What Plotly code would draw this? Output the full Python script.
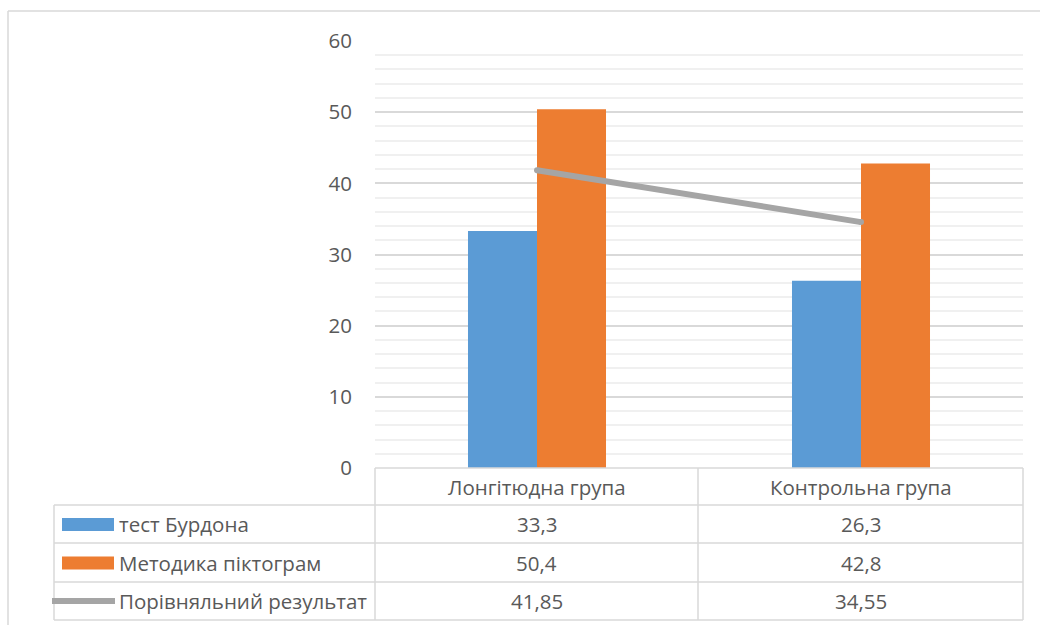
import plotly.graph_objects as go

# Data
categories = ["Лонгітюдна група", "Контрольна група"]
series_names = ["тест Бурдона", "Методика піктограм", "Порівняльний результат"]
bourdon = [33.3, 26.3]
pictogram = [50.4, 42.8]
comparative = [41.85, 34.55]
value_labels = [["33,3", "26,3"], ["50,4", "42,8"], ["41,85", "34,55"]]
y_ticks = [0, 10, 20, 30, 40, 50, 60]

BLUE = "#5b9bd5"
ORANGE = "#ed7d31"
GRAY = "#a5a5a5"
TEXT = "#595959"
GRID = "#d9d9d9"
FONT = "Open Sans"
FS = 20.5

W, H = 1040, 625
L, R, T, B = 375, 1023, 41, 468  # plot area in pixels


def px(x):
    return (x - L) / (R - L)


def py(y):
    return (B - y) / (B - T)


fig = go.Figure()
fig.add_trace(go.Bar(x=categories, y=bourdon, name=series_names[0],
                     marker=dict(color=BLUE, line=dict(width=0))))
fig.add_trace(go.Bar(x=categories, y=pictogram, name=series_names[1],
                     marker=dict(color=ORANGE, line=dict(width=0))))
fig.add_trace(go.Scatter(x=categories, y=comparative, name=series_names[2],
                         mode="lines+markers",
                         line=dict(color=GRAY, width=6),
                         marker=dict(color=GRAY, size=6, line=dict(width=0))))

shapes = []
line_style = dict(color=GRID, width=1.5)


def seg(x0, y0, x1, y1, style=line_style):
    shapes.append(dict(type="line", xref="paper", yref="paper",
                       x0=px(x0), y0=py(y0), x1=px(x1), y1=py(y1), line=style))


# outer chart frame
seg(8, 11, 1045, 11)
seg(8, 11, 8, 630)

# data table grid
row_y = [468, 505, 543, 582, 620]
seg(L, row_y[0], R, row_y[0])
for yy in row_y[1:]:
    seg(54, yy, R, yy)
seg(54, row_y[1], 54, row_y[-1])
for xx in [L, 698, R]:
    seg(xx, row_y[0], xx, row_y[-1])

annotations = []
col_centers = [(L + 698) / 2, (698 + R) / 2]
row_centers = [(row_y[i] + row_y[i + 1]) / 2 for i in range(4)]

for c, cat in zip(col_centers, categories):
    annotations.append(dict(x=px(c), y=py(row_centers[0]), xref="paper", yref="paper",
                            text=cat, showarrow=False, xanchor="center", yanchor="middle",
                            font=dict(family=FONT, size=FS, color=TEXT)))

for i, name in enumerate(series_names):
    yc = row_centers[i + 1]
    annotations.append(dict(x=px(117), y=py(yc), xref="paper", yref="paper",
                            text=name, showarrow=False, xanchor="left", yanchor="middle",
                            font=dict(family=FONT, size=FS, color=TEXT)))
    for c, lab in zip(col_centers, value_labels[i]):
        annotations.append(dict(x=px(c), y=py(yc), xref="paper", yref="paper",
                                text=lab, showarrow=False, xanchor="center", yanchor="middle",
                                font=dict(family=FONT, size=FS, color=TEXT)))

# legend keys inside the table
shapes.append(dict(type="rect", xref="paper", yref="paper", x0=px(62), x1=px(114),
                   y0=py(row_centers[1] - 6), y1=py(row_centers[1] + 7),
                   fillcolor=BLUE, line=dict(width=0)))
shapes.append(dict(type="rect", xref="paper", yref="paper", x0=px(62), x1=px(114),
                   y0=py(row_centers[2] - 6), y1=py(row_centers[2] + 7),
                   fillcolor=ORANGE, line=dict(width=0)))
shapes.append(dict(type="line", xref="paper", yref="paper", x0=px(52), x1=px(115),
                   y0=py(row_centers[3]), y1=py(row_centers[3]),
                   line=dict(color=GRAY, width=6)))

fig.update_layout(
    width=W, height=H,
    margin=dict(l=L, r=W - R, t=T, b=H - B, pad=0),
    paper_bgcolor="white", plot_bgcolor="white",
    barmode="group", bargap=0.574, bargroupgap=0,
    showlegend=False,
    shapes=shapes, annotations=annotations,
    font=dict(family=FONT, color=TEXT),
    xaxis=dict(range=[-0.5, 1.5], showticklabels=False, showgrid=False,
               zeroline=False, showline=False, fixedrange=True),
    yaxis=dict(range=[0, 60], tickvals=y_ticks, ticktext=[str(v) for v in y_ticks],
               showgrid=True, gridcolor=GRID, gridwidth=1.5,
               minor=dict(dtick=2, showgrid=True, gridcolor="#f0f0f0", gridwidth=1.5),
               zeroline=False, showline=False, ticks="", ticklabelstandoff=22,
               tickfont=dict(family=FONT, size=FS, color=TEXT)),
)

fig.write_html("out.html")
